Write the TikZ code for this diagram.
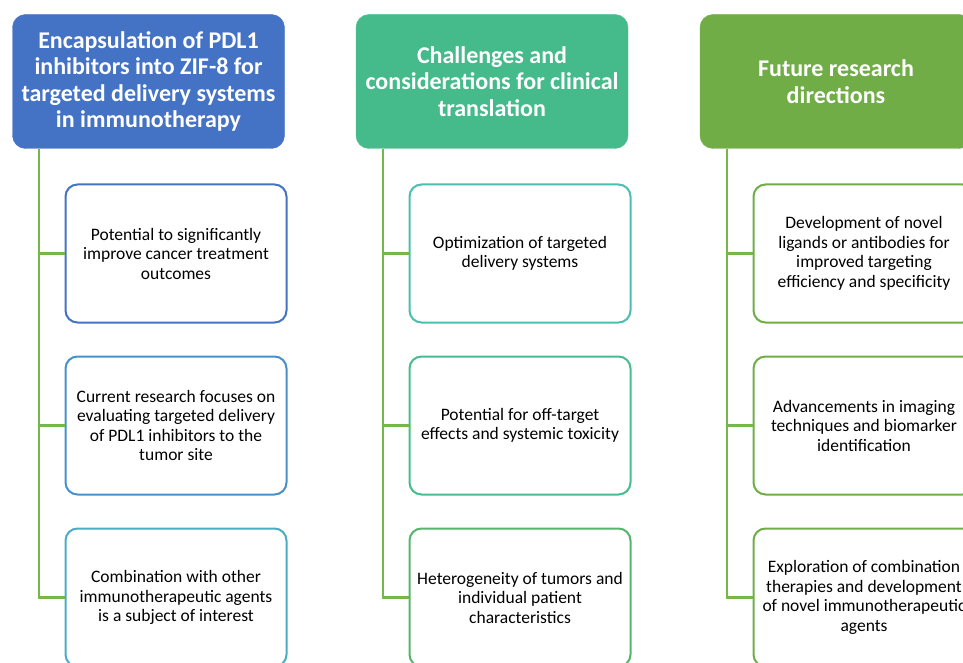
\documentclass[tikz,border=0pt]{standalone}
\usepackage{fontspec}
\setmainfont{Carlito}
\definecolor{hA}{HTML}{4472C4}
\definecolor{hB}{HTML}{45BB8C}
\definecolor{hC}{HTML}{70AD47}
\definecolor{bA}{HTML}{4472C4}
\definecolor{bB}{HTML}{4890C9}
\definecolor{bC}{HTML}{4BACC6}
\definecolor{bD}{HTML}{4ABFB0}
\definecolor{bE}{HTML}{47BC8E}
\definecolor{bF}{HTML}{55B56A}
\definecolor{bG}{HTML}{70AD47}
\definecolor{linkc}{HTML}{74B84A}
\tikzset{
  head/.style={rounded corners=13pt, minimum width=272pt, minimum height=134pt,
    text=white, align=center, font=\fontsize{24}{26.4}\selectfont\bfseries, inner sep=0pt},
  leaf/.style={rounded corners=12pt, draw, line width=2pt, fill=white, minimum width=221pt,
    minimum height=138pt, align=center, font=\fontsize{17.5}{19.5}\selectfont, inner sep=0pt},
  conn/.style={draw=linkc, line width=2.2pt}
}
\begin{document}
\begin{tikzpicture}[x=1pt,y=-1pt]
\useasboundingbox (0,0) rectangle (963,663);
\clip (0,0) rectangle (963,663);
% headers
\node[head, fill=hA, draw=hA] (h1) at (148.5,81.5) {Encapsulation of PDL1\\inhibitors into ZIF-8 for\\targeted delivery systems\\in immunotherapy};
\node[head, fill=hB, draw=hB] (h2) at (492,81.5) {Challenges and\\considerations for clinical\\translation};
\node[head, fill=hC, draw=hC] (h3) at (836,81.5) {Future research\\directions};
% column 1
\node[leaf, draw=bA] (b11) at (176,253.5) {Potential to significantly\\improve cancer treatment\\outcomes};
\node[leaf, draw=bB] (b12) at (176,425.5) {Current research focuses on\\evaluating targeted delivery\\of PDL1 inhibitors to the\\tumor site};
\node[leaf, draw=bC] (b13) at (176,597.5) {Combination with other\\immunotherapeutic agents\\is a subject of interest};
% column 2
\node[leaf, draw=bD] (b21) at (520,253.5) {Optimization of targeted\\delivery systems};
\node[leaf, draw=bE] (b22) at (520,425.5) {Potential for off-target\\effects and systemic toxicity};
\node[leaf, draw=bF] (b23) at (520,597.5) {Heterogeneity of tumors and\\individual patient\\characteristics};
% column 3
\node[leaf, draw=bG] (b31) at (864,253.5) {Development of novel\\ligands or antibodies for\\improved targeting\\efficiency and specificity};
\node[leaf, draw=bG] (b32) at (864,425.5) {Advancements in imaging\\techniques and biomarker\\identification};
\node[leaf, draw=bG] (b33) at (864,597.5) {Exploration of combination\\therapies and development\\of novel immunotherapeutic\\agents};
% connectors
\foreach \h/\c in {h1/1, h2/2, h3/3}{
  \coordinate (s\c) at ([xshift=27pt]\h.south west);
  \foreach \r in {1,2,3}{
    \draw[conn] (s\c) |- (b\c\r.west);
  }
}
\end{tikzpicture}
\end{document}
